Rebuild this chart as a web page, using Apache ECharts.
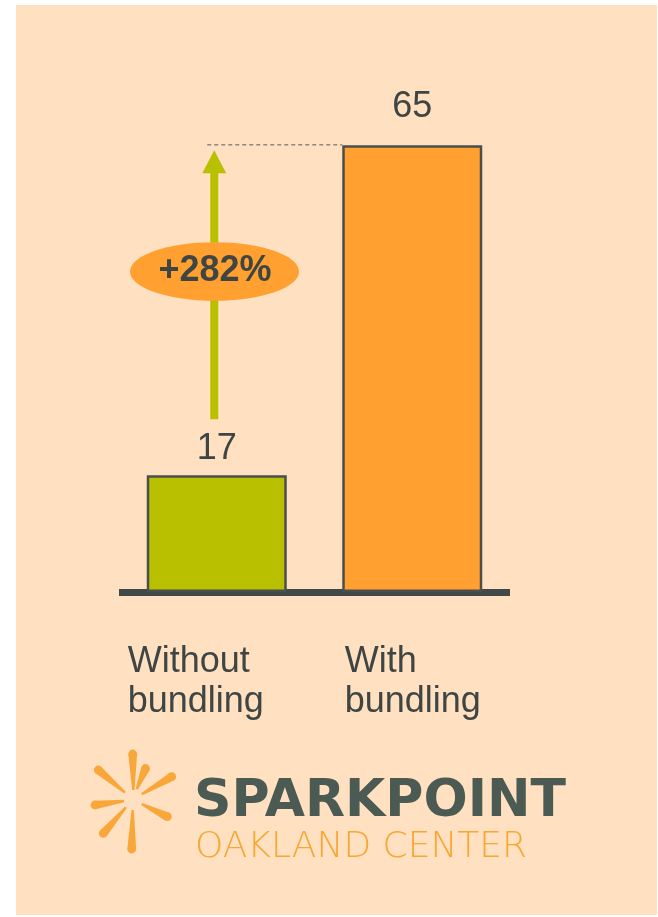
<!DOCTYPE html>
<html><head><meta charset="utf-8">
<script src="https://cdn.jsdelivr.net/npm/echarts@6.0.0/dist/echarts.min.js"></script>
<style>html,body{margin:0;padding:0;background:#fff}#c{width:658px;height:917px}</style>
</head><body><div id="c"></div>
<script>
// ---- data ----
const categories = ['Without\nbundling', 'With\nbundling'];
const values = [17, 65];
const changeLabel = '+282%';
const logoTop = ['SPARK', 'POINT'];
const logoBottom = 'OAKLAND CENTER';

// ---- styles ----
const FONT = '"Liberation Sans", Arial, sans-serif';
const TEXT = '#3f4543';
const GREEN = '#b8c000';
const ORANGE = '#ffa030';
const BORDER = '#4a4f4d';
const PEACH = '#ffe1c1';
const barColors = [GREEN, ORANGE];
const labelDistances = [8, 20];

const chart = echarts.init(document.getElementById('c'), null, {renderer: 'canvas'});

chart.setOption({
  backgroundColor: '#ffffff',
  animation: false,
  grid: {left: 119, width: 391, top: 111, bottom: 325, containLabel: false},
  xAxis: {
    type: 'category',
    data: categories,
    offset: 4,
    axisLine: {show: true, lineStyle: {color: '#424848', width: 7, cap: 'butt'}},
    axisTick: {show: false},
    axisLabel: {
      margin: 46,
      align: 'center',
      interval: 0,
      formatter: function (v, i) {
        const k = i === 0 ? 'a' : 'b';
        return v.split('\n').map(s => '{' + k + '|' + s + '}').join('\n');
      },
      rich: {
        a: {width: 178, align: 'left', fontSize: 36, lineHeight: 40, color: TEXT, fontFamily: FONT},
        b: {width: 140, align: 'left', fontSize: 36, lineHeight: 40, color: TEXT, fontFamily: FONT, padding: [0, 0, 0, 5]}
      }
    }
  },
  yAxis: {type: 'value', min: 0, max: 70, show: false, splitLine: {show: false}},
  series: [{
    type: 'bar',
    barWidth: 140,
    data: values.map((v, i) => ({
      value: v,
      itemStyle: {color: barColors[i]},
      label: {distance: labelDistances[i]}
    })),
    itemStyle: {borderColor: BORDER, borderWidth: 2.5},
    label: {show: true, position: 'top', fontSize: 36, color: TEXT, fontFamily: FONT}
  }]
});

// positions from the axes
const p17 = chart.convertToPixel({seriesIndex: 0}, [0, values[0]]);
const p65 = chart.convertToPixel({seriesIndex: 0}, [1, values[1]]);
const ax = p17[0] - 2.5;
const tipY = p65[1] + 5;
const baseY = tipY + 23;
const botY = p17[1] - 56;
const bar2Left = p65[0] - 70;

// logo rays [outer, inner]
const rays = [
  [[132.7, 754], [133.3, 790]],
  [[145.5, 768.5], [136.7, 789.3]],
  [[171.7, 776.7], [141.7, 794.3]],
  [[167.3, 816.7], [141.7, 804]],
  [[131.7, 849], [132.7, 810]],
  [[103.3, 833.3], [126, 807.3]],
  [[95, 805], [124, 801]],
  [[98.3, 770], [125, 792.7]]
];
const rayEls = [];
rays.forEach(r => {
  const [o, inn] = r;
  let dx = o[0] - inn[0], dy = o[1] - inn[1];
  const L = Math.hypot(dx, dy); dx /= L; dy /= L;
  const nx = -dy, ny = dx, w = 4.4, wi = 1.2;
  rayEls.push({type: 'polygon', silent: true, z: 3,
    shape: {points: [[o[0] + nx * w, o[1] + ny * w], [inn[0] + nx * wi, inn[1] + ny * wi],
                     [inn[0] - nx * wi, inn[1] - ny * wi], [o[0] - nx * w, o[1] - ny * w]]},
    style: {fill: '#f9a73a'}});
  rayEls.push({type: 'circle', silent: true, z: 3, shape: {cx: o[0], cy: o[1], r: w}, style: {fill: '#f9a73a'}});
});

chart.setOption({
  graphic: [
    {type: 'rect', silent: true, z: -10, shape: {x: 16, y: 5, width: 641, height: 910}, style: {fill: PEACH}},
    {type: 'line', silent: true, z: 1, shape: {x1: ax - 7, y1: p65[1] - 0.5, x2: bar2Left, y2: p65[1] - 0.5},
      style: {stroke: '#555a58', lineWidth: 1, lineDash: [4, 3]}},
    {type: 'rect', silent: true, z: 5, shape: {x: ax - 4, y: baseY - 1, width: 8, height: botY - baseY + 1}, style: {fill: GREEN}},
    {type: 'polygon', silent: true, z: 5, shape: {points: [[ax - 12, baseY], [ax + 12, baseY], [ax, tipY]]}, style: {fill: GREEN}},
    {type: 'ellipse', silent: true, z: 6, shape: {cx: 214.5, cy: 271.5, rx: 84.5, ry: 29.3}, style: {fill: ORANGE}},
    {type: 'text', silent: true, z: 7, style: {text: changeLabel, x: 215, y: 271, align: 'center', verticalAlign: 'middle',
      font: 'bold 36px ' + FONT, fill: TEXT}},
    ...rayEls,
    {type: 'text', silent: true, z: 3, style: {text: '{a|' + logoTop[0] + '}{b|' + logoTop[1] + '}', x: 194, y: 802,
      align: 'left', verticalAlign: 'middle',
      rich: {a: {font: 'bold 52px "DejaVu Sans", sans-serif', fill: '#4b5a52'}, b: {font: 'bold 52px "DejaVu Sans", sans-serif', fill: '#4b5a52'}}}},
    {type: 'text', silent: true, z: 3, style: {text: logoBottom, x: 195, y: 848, align: 'left', verticalAlign: 'middle',
      font: '200 36px "DejaVu Sans", sans-serif', fill: '#f7a734'}}
  ]
});
</script></body></html>
